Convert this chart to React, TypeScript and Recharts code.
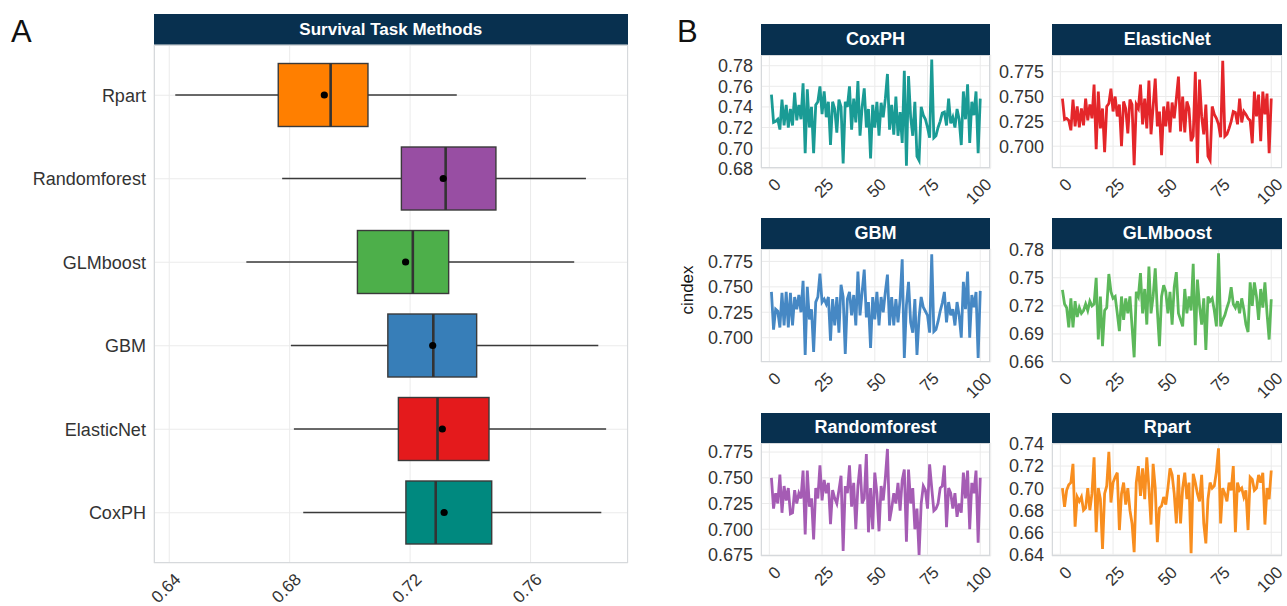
import React from "react"
import {
  ComposedChart,
  Bar,
  LineChart,
  Line,
  XAxis,
  YAxis,
  CartesianGrid,
} from "recharts"

// ---- panel A: box summary per method ----
const methods = ["Rpart", "Randomforest", "GLMboost", "GBM", "ElasticNet", "CoxPH"]
const whiskerLow = [0.642, 0.6775, 0.6656, 0.6804, 0.6814, 0.6845]
const q1 = [0.6762, 0.7171, 0.7025, 0.7126, 0.7161, 0.7186]
const median = [0.6936, 0.7318, 0.7209, 0.7277, 0.7291, 0.7285]
const q3 = [0.706, 0.7485, 0.7328, 0.7421, 0.7462, 0.7471]
const whiskerHigh = [0.7355, 0.7784, 0.7745, 0.7825, 0.7851, 0.7835]
const means = [0.6915, 0.731, 0.7185, 0.7275, 0.7307, 0.7313]
const boxTicks = [0.64, 0.68, 0.72, 0.76]

// ---- panel B: cindex over 100 runs ----
const indexTicks = [0, 25, 50, 75, 100]

const coxph = [
  0.752, 0.725, 0.726, 0.728, 0.718, 0.747, 0.722, 0.742, 0.72, 0.738,
  0.722, 0.754, 0.727, 0.742, 0.728, 0.763, 0.695, 0.757, 0.72, 0.74,
  0.695, 0.742, 0.745, 0.76, 0.733, 0.755, 0.73, 0.745, 0.703, 0.745,
  0.738, 0.715, 0.747, 0.74, 0.685, 0.745, 0.74, 0.76, 0.718, 0.748,
  0.725, 0.765, 0.712, 0.74, 0.758, 0.72, 0.738, 0.69, 0.742, 0.72,
  0.745, 0.712, 0.744, 0.73, 0.748, 0.772, 0.718, 0.742, 0.713, 0.75,
  0.712, 0.735, 0.705, 0.775, 0.683, 0.77, 0.73, 0.712, 0.745, 0.692,
  0.688, 0.74, 0.732, 0.728, 0.72, 0.71, 0.786, 0.71, 0.712, 0.72,
  0.726, 0.734, 0.735, 0.722, 0.748, 0.724, 0.73, 0.72, 0.738, 0.728,
  0.703, 0.755, 0.728, 0.762, 0.705, 0.745, 0.732, 0.755, 0.695, 0.748,
]
const elasticnet = [
  0.748, 0.727, 0.728, 0.726, 0.716, 0.747, 0.72, 0.74, 0.719, 0.738,
  0.721, 0.748, 0.726, 0.742, 0.728, 0.762, 0.697, 0.755, 0.718, 0.738,
  0.694, 0.74, 0.743, 0.758, 0.735, 0.75, 0.73, 0.742, 0.7, 0.745,
  0.738, 0.713, 0.747, 0.742, 0.681, 0.742, 0.738, 0.762, 0.722, 0.748,
  0.718, 0.766, 0.712, 0.74, 0.768, 0.72, 0.735, 0.691, 0.74, 0.72,
  0.745, 0.714, 0.744, 0.728, 0.748, 0.77, 0.715, 0.75, 0.714, 0.745,
  0.738, 0.705, 0.71, 0.775, 0.683, 0.767, 0.73, 0.712, 0.742, 0.69,
  0.686, 0.74, 0.732, 0.728, 0.722, 0.709, 0.786, 0.71, 0.712, 0.718,
  0.725, 0.735, 0.734, 0.722, 0.748, 0.724, 0.735, 0.732, 0.728, 0.726,
  0.703, 0.755, 0.73, 0.752, 0.705, 0.755, 0.732, 0.753, 0.693, 0.748,
]
const gbm = [
  0.745, 0.708, 0.728, 0.726, 0.71, 0.744, 0.712, 0.745, 0.71, 0.744,
  0.712, 0.74, 0.728, 0.742, 0.725, 0.756, 0.683, 0.75, 0.718, 0.728,
  0.686, 0.735, 0.74, 0.763, 0.735, 0.738, 0.733, 0.74, 0.697, 0.738,
  0.712, 0.74, 0.705, 0.752, 0.74, 0.684, 0.738, 0.745, 0.722, 0.742,
  0.712, 0.765, 0.722, 0.745, 0.767, 0.72, 0.735, 0.69, 0.74, 0.718,
  0.745, 0.712, 0.74, 0.725, 0.745, 0.762, 0.712, 0.74, 0.712, 0.738,
  0.715, 0.738, 0.777, 0.68, 0.732, 0.755, 0.715, 0.705, 0.738, 0.683,
  0.72, 0.74, 0.73, 0.726, 0.722, 0.705, 0.782, 0.706, 0.708, 0.716,
  0.726, 0.734, 0.745, 0.715, 0.735, 0.722, 0.728, 0.712, 0.735, 0.722,
  0.7, 0.755, 0.728, 0.765, 0.7, 0.742, 0.73, 0.745, 0.68, 0.746,
]
const glmboost = [
  0.737, 0.722, 0.718, 0.697, 0.728, 0.697, 0.725, 0.708, 0.718, 0.712,
  0.715, 0.722, 0.715, 0.725, 0.72, 0.722, 0.75, 0.684, 0.73, 0.677,
  0.715, 0.718, 0.754, 0.735, 0.728, 0.73, 0.712, 0.693, 0.73, 0.705,
  0.728, 0.712, 0.73, 0.698, 0.665, 0.735, 0.73, 0.755, 0.712, 0.738,
  0.7, 0.762, 0.712, 0.73, 0.76, 0.715, 0.677, 0.73, 0.742, 0.735,
  0.712, 0.735, 0.7, 0.74, 0.756, 0.712, 0.705, 0.698, 0.738, 0.712,
  0.73, 0.715, 0.765, 0.678, 0.748, 0.72, 0.7, 0.728, 0.673, 0.73,
  0.725, 0.728, 0.715, 0.698, 0.776, 0.698, 0.705, 0.71, 0.718, 0.725,
  0.74, 0.722, 0.718, 0.725, 0.712, 0.728, 0.716, 0.7, 0.692, 0.745,
  0.72, 0.745, 0.73, 0.705, 0.738, 0.718, 0.745, 0.712, 0.684, 0.727,
]
const randomforest = [
  0.75, 0.72, 0.735, 0.725, 0.753, 0.716, 0.742, 0.728, 0.74, 0.715,
  0.716, 0.738, 0.725, 0.735, 0.73, 0.757, 0.695, 0.757, 0.722, 0.73,
  0.69, 0.74, 0.73, 0.762, 0.728, 0.748, 0.735, 0.745, 0.705, 0.738,
  0.73, 0.725, 0.738, 0.752, 0.679, 0.742, 0.735, 0.762, 0.722, 0.745,
  0.7, 0.742, 0.763, 0.725, 0.73, 0.773, 0.697, 0.74, 0.7, 0.755,
  0.735, 0.698, 0.742, 0.728, 0.75, 0.778, 0.708, 0.72, 0.735, 0.725,
  0.745, 0.718, 0.748, 0.758, 0.688, 0.758, 0.725, 0.74, 0.7, 0.72,
  0.675, 0.725, 0.742, 0.738, 0.72, 0.763, 0.74, 0.718, 0.72, 0.725,
  0.74, 0.742, 0.762, 0.702, 0.74, 0.735, 0.72, 0.735, 0.712, 0.725,
  0.716, 0.755, 0.73, 0.757, 0.7, 0.745, 0.735, 0.757, 0.687, 0.75,
]
const rpart = [
  0.7, 0.683, 0.698, 0.703, 0.705, 0.722, 0.665, 0.692, 0.688, 0.692,
  0.68, 0.682, 0.7, 0.68, 0.695, 0.728, 0.66, 0.7, 0.69, 0.645,
  0.695, 0.702, 0.733, 0.687, 0.705, 0.71, 0.714, 0.662, 0.695, 0.705,
  0.685, 0.7, 0.68, 0.668, 0.642, 0.705, 0.72, 0.693, 0.718, 0.69,
  0.728, 0.7, 0.667, 0.722, 0.7, 0.651, 0.682, 0.684, 0.692, 0.685,
  0.7, 0.718, 0.712, 0.695, 0.668, 0.712, 0.668, 0.7, 0.714, 0.69,
  0.705, 0.641, 0.713, 0.705, 0.695, 0.688, 0.712, 0.668, 0.65, 0.69,
  0.705, 0.7, 0.702, 0.715, 0.736, 0.668, 0.7, 0.695, 0.688, 0.705,
  0.698, 0.72, 0.66, 0.705, 0.698, 0.7, 0.692, 0.698, 0.662, 0.71,
  0.708, 0.698, 0.7, 0.712, 0.705, 0.714, 0.667, 0.7, 0.69, 0.716,
]

const coxphTicks = ["0.68", "0.70", "0.72", "0.74", "0.76", "0.78"]
const elasticnetTicks = ["0.700", "0.725", "0.750", "0.775"]
const gbmTicks = ["0.700", "0.725", "0.750", "0.775"]
const glmboostTicks = ["0.66", "0.69", "0.72", "0.75", "0.78"]
const randomforestTicks = ["0.675", "0.700", "0.725", "0.750", "0.775"]
const rpartTicks = ["0.64", "0.66", "0.68", "0.70", "0.72", "0.74"]

// ---- styling ----
const FONT = "'Liberation Sans', Arial, Helvetica, sans-serif"
const STRIP = "#08304f"
const GRID = "#EBEBEB"
const BORDER = "#D6D9DC"
const TEXT = "#333333"

const boxColors: Record<string, string> = {
  Rpart: "#FF7F00",
  Randomforest: "#984EA3",
  GLMboost: "#4DAF4A",
  GBM: "#377EB8",
  ElasticNet: "#E41A1C",
  CoxPH: "#00897F",
}
const lineColors: Record<string, string> = {
  CoxPH: "#1A9B95",
  ElasticNet: "#E4262A",
  GBM: "#4688C4",
  GLMboost: "#5CB85A",
  Randomforest: "#A55CB4",
  Rpart: "#F88E1F",
}

const boxData = methods.map((name, k) => ({
  name,
  box: [q1[k], q3[k]],
  lo: whiskerLow[k],
  med: median[k],
  hi: whiskerHigh[k],
  mean: means[k],
}))

function BoxShape(props: any) {
  const { x, y, width, height, payload } = props
  const [a, b] = payload.box
  const px = (v: number) => x + ((v - a) / (b - a)) * width
  const cy = y + height / 2
  return (
    <g>
      <line x1={px(payload.lo)} x2={x} y1={cy} y2={cy} stroke="#3a3a3a" strokeWidth={1.4} />
      <line x1={x + width} x2={px(payload.hi)} y1={cy} y2={cy} stroke="#3a3a3a" strokeWidth={1.4} />
      <rect x={x} y={y} width={width} height={height} fill={boxColors[payload.name]} stroke="#3a3a3a" strokeWidth={1.4} />
      <line x1={px(payload.med)} x2={px(payload.med)} y1={y} y2={y + height} stroke="#333" strokeWidth={2.6} />
      <circle cx={px(payload.mean)} cy={cy} r={3.6} fill="#000" />
    </g>
  )
}

function SlantTick(props: any) {
  const { x, y, payload, size, fmt } = props
  const label = fmt ? fmt(payload.value) : String(payload.value)
  return (
    <g transform={`translate(${x + 4},${y + 1})`}>
      <text textAnchor="end" dominantBaseline="hanging" transform="rotate(-45)" fontSize={size} fill={TEXT} fontFamily={FONT}>
        {label}
      </text>
    </g>
  )
}

const stripStyle = (left: number, top: number, width: number, height: number, size: number): React.CSSProperties => ({
  position: "absolute",
  left,
  top,
  width,
  height,
  background: STRIP,
  color: "#fff",
  fontWeight: "bold",
  fontSize: size,
  display: "flex",
  alignItems: "center",
  justifyContent: "center",
})

const borderStyle = (left: number, top: number, width: number, height: number): React.CSSProperties => ({
  position: "absolute",
  left,
  top,
  width,
  height,
  border: `1px solid ${BORDER}`,
  boxSizing: "border-box",
  pointerEvents: "none",
})

// facet layout
const colLeft = [760.7, 1052.4]
const rowTop = [24, 218.3, 412.7]
const plotW = 229.7
const stripH = 30.5
const panelH = 113
const yAxisW = 80
const xAxisH = 46
const padTop = 12
const padRight = 24

function Facet({ name, values, labels, domain, col, row }: any) {
  const left = colLeft[col]
  const top = rowTop[row]
  const data = values.map((v: number, k: number) => ({ i: k + 1, v }))
  const ticks = labels.map(Number)
  return (
    <>
      <div style={{ position: "absolute", left: left - yAxisW, top: top + stripH - padTop }}>
        <LineChart
          width={yAxisW + plotW + padRight}
          height={padTop + panelH + xAxisH}
          data={data}
          margin={{ top: padTop, right: padRight, bottom: 0, left: 0 }}
        >
          <CartesianGrid stroke={GRID} />
          <XAxis
            dataKey="i"
            type="number"
            domain={[-3.95, 104.95]}
            ticks={indexTicks}
            allowDataOverflow
            interval={0}
            height={xAxisH}
            axisLine={false}
            tickLine={false}
            tick={<SlantTick size={17} />}
          />
          <YAxis
            type="number"
            domain={domain}
            ticks={ticks}
            allowDataOverflow
            interval={0}
            width={yAxisW}
            axisLine={false}
            tickLine={false}
            tickFormatter={(v: number) => labels[ticks.indexOf(v)]}
            tick={{ fontSize: 18, fill: TEXT, fontFamily: FONT }}
          />
          <Line type="linear" dataKey="v" stroke={lineColors[name]} strokeWidth={2.8} dot={false} isAnimationActive={false} />
        </LineChart>
      </div>
      <div style={stripStyle(left, top, plotW, stripH, 18)}>{name}</div>
      <div style={borderStyle(left, top + stripH, plotW, panelH)} />
    </>
  )
}

export default function App() {
  return (
    <div style={{ position: "absolute", left: 0, top: 0, width: 1287, height: 606, background: "#fff", fontFamily: FONT, overflow: "hidden" }}>
      <div style={{ position: "absolute", left: 11, top: 14, fontSize: 31, color: "#111" }}>A</div>
      <div style={{ position: "absolute", left: 677, top: 14, fontSize: 31, color: "#111" }}>B</div>

      {/* panel A */}
      <div style={stripStyle(153.9, 14, 473.9, 31, 17)}>Survival Task Methods</div>
      <div style={{ position: "absolute", left: 0, top: 0 }}>
        <ComposedChart layout="vertical" width={640} height={606} data={boxData} margin={{ top: 45, right: 12.2, bottom: 0, left: 0 }}>
          <CartesianGrid stroke={GRID} />
          <XAxis
            type="number"
            domain={[0.6349, 0.7923]}
            ticks={boxTicks}
            allowDataOverflow
            interval={0}
            height={43}
            axisLine={false}
            tickLine={false}
            tick={<SlantTick size={17} fmt={(v: number) => v.toFixed(2)} />}
          />
          <YAxis
            type="category"
            dataKey="name"
            width={153.9}
            axisLine={false}
            tickLine={false}
            padding={{ top: 8.5, bottom: 8.5 }}
            tick={{ fontSize: 18, fill: TEXT, fontFamily: FONT }}
          />
          <Bar dataKey="box" barSize={63} shape={<BoxShape />} isAnimationActive={false} />
        </ComposedChart>
      </div>
      <div style={borderStyle(153.9, 45, 473.9, 518)} />

      {/* panel B */}
      <Facet name="CoxPH" values={coxph} labels={coxphTicks} domain={[0.6807, 0.7904]} col={0} row={0} />
      <Facet name="ElasticNet" values={elasticnet} labels={elasticnetTicks} domain={[0.6781, 0.7918]} col={1} row={0} />
      <Facet name="GBM" values={gbm} labels={gbmTicks} domain={[0.6761, 0.7872]} col={0} row={1} />
      <Facet name="GLMboost" values={glmboost} labels={glmboostTicks} domain={[0.66, 0.7807]} col={1} row={1} />
      <Facet name="Randomforest" values={randomforest} labels={randomforestTicks} domain={[0.674, 0.7838]} col={0} row={2} />
      <Facet name="Rpart" values={rpart} labels={rpartTicks} domain={[0.6385, 0.7409]} col={1} row={2} />

      <div
        style={{
          position: "absolute",
          left: 688,
          top: 290,
          fontSize: 17,
          color: "#111",
          transform: "translate(-50%, -50%) rotate(-90deg)",
          whiteSpace: "nowrap",
        }}
      >
        cindex
      </div>
    </div>
  )
}
